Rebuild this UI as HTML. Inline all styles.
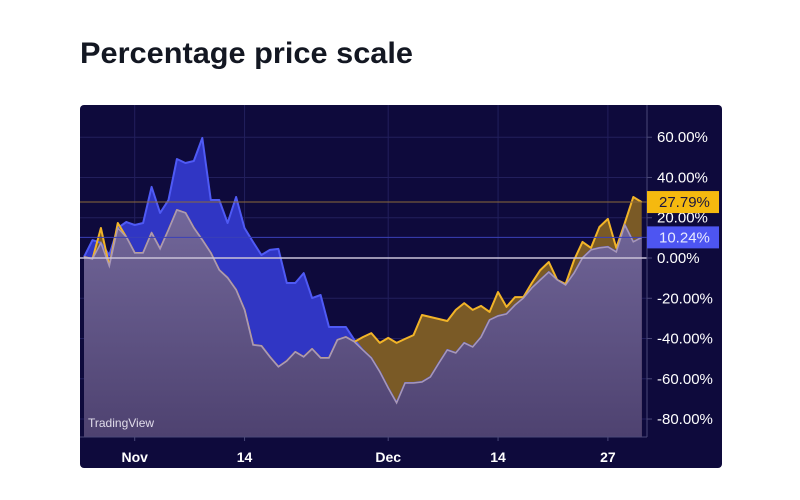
<!DOCTYPE html>
<html><head><meta charset="utf-8"><style>
body{margin:0;background:#fff;width:800px;height:500px;overflow:hidden}
svg{display:block}
text{font-family:"Liberation Sans","DejaVu Sans",sans-serif}
</style></head><body>
<svg id="c" width="800" height="500">
<text x="80" y="63" font-size="30" font-weight="bold" fill="#131722" textLength="333" lengthAdjust="spacingAndGlyphs">Percentage price scale</text>
<rect x="80" y="105" width="642" height="363" rx="4" fill="#0e0a3c"/>
<defs><linearGradient id="lav" x1="0" y1="0" x2="0" y2="1"><stop offset="0" stop-color="#72679a"/><stop offset="1" stop-color="#4e4270"/></linearGradient>
<clipPath id="pc"><rect x="80" y="105" width="567" height="332"/></clipPath></defs>
<g id="grid"></g><g id="plot" clip-path="url(#pc)"></g><g id="axes"></g>
</svg>
<script>
const dates=['Oct26','Oct27','Oct28','Oct29','Oct30','Oct31','Nov1','Nov2','Nov3','Nov4','Nov5','Nov6','Nov7','Nov8','Nov9','Nov10','Nov11','Nov12','Nov13','Nov14','Nov15','Nov16','Nov17','Nov18','Nov19','Nov20','Nov21','Nov22','Nov23','Nov24','Nov25','Nov26','Nov27','Nov28','Nov29','Nov30','Dec1','Dec2','Dec3','Dec4','Dec5','Dec6','Dec7','Dec8','Dec9','Dec10','Dec11','Dec12','Dec13','Dec14','Dec15','Dec16','Dec17','Dec18','Dec19','Dec20','Dec21','Dec22','Dec23','Dec24','Dec25','Dec26','Dec27','Dec28','Dec29','Dec30','Dec31'];
const blueValues=[0.5,8.9,7.5,1.5,14.9,17.9,16.4,17.4,35.3,22.4,28.8,49.2,47.2,48.2,59.6,28.8,28.8,17.4,30.3,14.9,8.0,1.5,4.0,4.5,-12.4,-12.4,-7.5,-19.9,-18.4,-34.3,-34.3,-34.3,-40.7,-45.7,-49.7,-56.6,-64.6,-72.0,-62.1,-62.1,-61.6,-59.1,-52.2,-45.7,-47.2,-42.2,-44.2,-39.3,-30.8,-28.8,-27.8,-23.4,-19.9,-14.9,-10.9,-7.0,-10.9,-13.4,-7.5,0,4.0,5.0,5.5,3.0,16.4,8.0,10.24];
const goldValues=[0.5,-0.5,14.9,-4.0,17.4,10.4,2.5,2.5,12.4,4.5,13.9,23.8,22.4,14.9,8.9,2.5,-6.0,-9.9,-15.9,-25.8,-43.2,-43.7,-49.2,-54.1,-51.2,-46.7,-49.2,-45.2,-49.7,-49.7,-40.7,-39.3,-41.7,-39.3,-37.3,-42.2,-39.7,-42.2,-40.2,-38.3,-28.3,-29.3,-30.3,-31.3,-25.8,-22.4,-25.8,-23.8,-26.8,-16.9,-24.3,-19.4,-19.4,-12.4,-6.0,-2.0,-10.9,-12.9,-1.0,8.0,5.0,15.4,19.4,5.0,17.4,30.3,27.79];
const yTicks=[60,40,20,0,-20,-40,-60,-80];
const xTickLabels=['Nov','14','Dec','14','27'];
const xTickDates=['Nov1','Nov14','Dec1','Dec14','Dec27'];

const NS='http://www.w3.org/2000/svg';
const X=i=>84+i*8.45;
const Y=v=>258-v*2.013;
const BOT=437;
function mk(tag,attrs,parent){const e=document.createElementNS(NS,tag);for(const k in attrs)e.setAttribute(k,attrs[k]);parent.appendChild(e);return e;}
const grid=document.getElementById('grid'),plot=document.getElementById('plot'),axes=document.getElementById('axes');

yTicks.forEach(t=>{const l=mk('line',{x1:80,x2:647,y1:Y(t),y2:Y(t),stroke:'#221f5c','stroke-width':1},grid);

});
xTickDates.forEach(d=>{const x=X(dates.indexOf(d));const l=mk('line',{x1:x,x2:x,y1:105,y2:BOT,stroke:'#221f5c','stroke-width':1},grid);

});

function pts(arr){return arr.map((v,i)=>X(i).toFixed(1)+','+Y(v).toFixed(1)).join(' ');}
function area(arr){const n=arr.length;return 'M'+X(0)+','+BOT+' L'+pts(arr)+' L'+X(n-1)+','+BOT+' Z';}
const minVals=blueValues.map((v,i)=>Math.min(v,goldValues[i]));

const ba=mk('path',{d:area(blueValues),fill:'#3036c4'},plot);


const ga=mk('path',{d:area(goldValues),fill:'#7a5a26'},plot);


const bl=mk('polyline',{points:pts(blueValues),fill:'none',stroke:'#4f5af5','stroke-width':2,'stroke-linejoin':'round'},plot);


const gl=mk('polyline',{points:pts(goldValues),fill:'none',stroke:'#f2b428','stroke-width':2,'stroke-linejoin':'round'},plot);


const la=mk('path',{d:area(minVals),fill:'url(#lav)'},plot);


const ll=mk('polyline',{points:pts(minVals),fill:'none',stroke:'#a898b8','stroke-width':1.5},plot);



const lastB=blueValues[blueValues.length-1],lastG=goldValues[goldValues.length-1];
const z=mk('line',{x1:80,x2:647,y1:Y(0),y2:Y(0),stroke:'#c9c2d8','stroke-width':1.5},plot);


const gp=mk('line',{x1:80,x2:647,y1:Y(lastG),y2:Y(lastG),stroke:'#8c6a3a','stroke-width':1},plot);


const bp=mk('line',{x1:80,x2:647,y1:Y(lastB),y2:Y(lastB),stroke:'#3a40b8','stroke-width':1},plot);



const wm=mk('text',{x:88,y:427,'font-size':12,fill:'#e0dcea'},plot);wm.textContent='TradingView';



const ax1=mk('line',{x1:647,x2:647,y1:105,y2:BOT,stroke:'#4a4878','stroke-width':1},axes);


const ax2=mk('line',{x1:80,x2:647,y1:BOT,y2:BOT,stroke:'#4a4878','stroke-width':1},axes);



yTicks.forEach(t=>{const tk=mk('line',{x1:647,x2:652,y1:Y(t),y2:Y(t),stroke:'#4a4878'},axes);


const tx=mk('text',{x:657,y:Y(t)+5,'font-size':15,fill:'#ffffff'},axes);tx.textContent=t.toFixed(2)+'%';

});

xTickDates.forEach((d,k)=>{const x=X(dates.indexOf(d));
const tk=mk('line',{x1:x,x2:x,y1:BOT,y2:BOT+4,stroke:'#4a4878'},axes);


const tx=mk('text',{x:x,y:462,'font-size':14,'font-weight':'bold',fill:'#ffffff','text-anchor':'middle'},axes);tx.textContent=xTickLabels[k];

});

function badge(v,bg,fg,name){const y=Y(v);
const r=mk('rect',{x:647,y:y-11,width:72,height:22,fill:bg},axes);


const t=mk('text',{x:659,y:y+5,'font-size':15,fill:fg},axes);t.textContent=v.toFixed(2)+'%';

}
badge(lastG,'#f5b90f','#1a1540','gold-last');
badge(lastB,'#4d55f2','#e8eaff','blue-last');
</script>
</body></html>
